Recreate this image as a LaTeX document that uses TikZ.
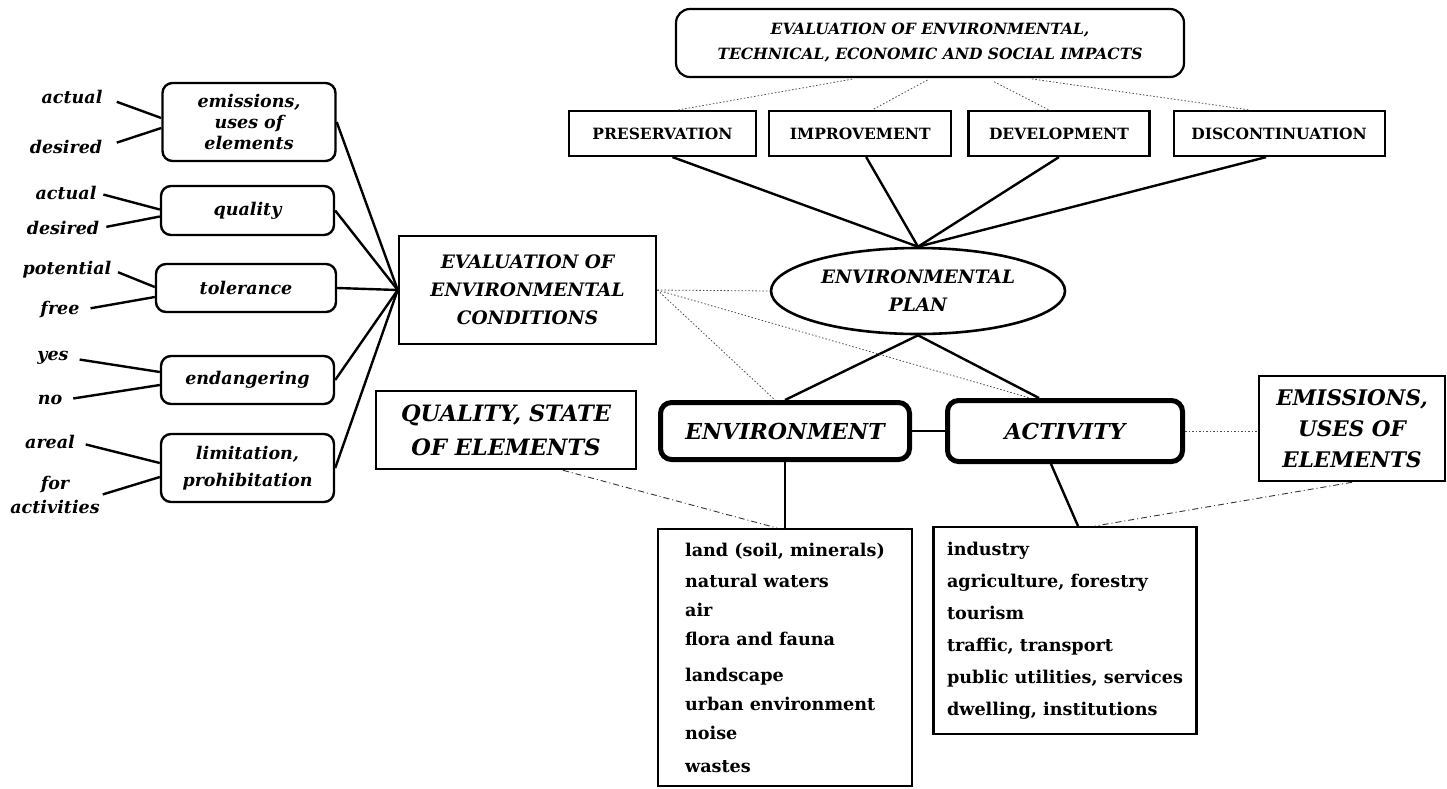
\documentclass[tikz,border=0pt]{standalone}
\usepackage{fontspec}
\setmainfont{DejaVu Serif}
\usetikzlibrary{shapes.geometric, positioning}

\begin{document}
\begin{tikzpicture}[
    x=1pt, y=-1pt,
    crit/.style={draw, rectangle, rounded corners=10pt, minimum width=173pt, align=center, line width=2.4pt, font=\fontsize{17.5}{21}\selectfont\bfseries\itshape},
    lbl/.style={align=center, inner sep=1pt, font=\fontsize{17.5}{24}\selectfont\bfseries\itshape},
    bigbox/.style={draw, rectangle, align=center, line width=2.6pt, font=\fontsize{18.5}{28}\selectfont\bfseries\itshape},
    optbox/.style={draw, rectangle, minimum height=45pt, line width=2.2pt, font=\fontsize{15.5}{17}\selectfont\bfseries},
    corebox/.style={draw, rectangle, rounded corners=11pt, line width=5pt, font=\fontsize{22}{26}\selectfont\bfseries\itshape},
    listbox/.style={draw, rectangle, align=left, line width=2.2pt, font=\fontsize{17.6}{29}\selectfont\bfseries},
    link/.style={line width=2.4pt},
    dotlink/.style={line width=0.8pt, black!70, dash pattern=on 1.5pt off 2pt},
    dashlink/.style={line width=0.9pt, black!80, dash pattern=on 6pt off 3pt on 1pt off 3pt}
]
    \useasboundingbox (0,0) rectangle (1447,788);

    % Criteria
    \node[crit, minimum height=78pt] (emis) at (249,122) {emissions,\\uses of\\elements};
    \node[crit, minimum height=49pt] (qual) at (247.5,210.5) {quality};
    \node[crit, minimum height=48pt, minimum width=180pt] (tol) at (246,288) {tolerance};
    \node[crit, minimum height=48pt] (endang) at (247.5,380) {endangering};
    \node[crit, minimum height=68pt, font=\fontsize{17.5}{27}\selectfont\bfseries\itshape] (limit) at (247.5,468) {limitation,\\prohibitation};

    % Criteria values
    \node[lbl] (act1) at (72,97) {actual};
    \node[lbl] (des1) at (66,147) {desired};
    \node[lbl] (act2) at (66,193) {actual};
    \node[lbl] (des2) at (63,228) {desired};
    \node[lbl] (pot) at (67,270) {potential};
    \node[lbl] (free) at (60,310) {free};
    \node[lbl] (yes) at (53,358) {yes};
    \node[lbl] (no) at (50,400) {no};
    \node[lbl] (areal) at (50,442) {areal};
    \node[lbl] (foract) at (55,495) {for\\activities};

    \draw[link, shorten <=14pt] (act1.east) -- ([yshift=4pt]emis.west);
    \draw[link, shorten <=14pt] (des1.east) -- ([yshift=-6pt]emis.west);
    \draw[link, shorten <=6pt] (act2.east) -- ([yshift=1pt]qual.west);
    \draw[link, shorten <=6pt] (des2.east) -- ([yshift=-6pt]qual.west);
    \draw[link, shorten <=6pt] (pot.east) -- ([yshift=1pt]tol.west);
    \draw[link, shorten <=10pt] (free.east) -- ([yshift=-9pt]tol.west);
    \draw[link, shorten <=10pt] (yes.east) -- ([yshift=8pt]endang.west);
    \draw[link, shorten <=10pt] (no.east) -- ([yshift=-5pt]endang.west);
    \draw[link, shorten <=10pt] (areal.east) -- ([yshift=5pt]limit.west);
    \draw[link, shorten <=2pt] (foract.east) -- ([yshift=-9pt]limit.west);

    % Evaluation of conditions
    \node[bigbox, minimum width=257pt, minimum height=108pt] (evalcond) at (527.5,290) {EVALUATION OF\\ENVIRONMENTAL\\CONDITIONS};
    \node[bigbox, minimum width=260pt, minimum height=78pt, font=\fontsize{22.5}{34}\selectfont\bfseries\itshape] (qualstate) at (506,430) {QUALITY, STATE\\OF ELEMENTS};

    \draw[link] (emis.east) -- (evalcond.west);
    \draw[link] (qual.east) -- (evalcond.west);
    \draw[link] (tol.east) -- (evalcond.west);
    \draw[link] (endang.east) -- (evalcond.west);
    \draw[link] (limit.east) -- (evalcond.west);

    % Plan and impacts
    \node[draw, ellipse, line width=2.6pt, minimum width=294pt, minimum height=86pt, inner sep=0pt, align=center,
          font=\fontsize{18.5}{28}\selectfont\bfseries\itshape] (plan) at (918,291) {ENVIRONMENTAL\\PLAN};
    \node[draw, rounded corners=14pt, minimum width=508pt, minimum height=68pt, line width=2.2pt, align=center,
          font=\fontsize{15.5}{25}\selectfont\bfseries\itshape] (impacts) at (930,43) {EVALUATION OF ENVIRONMENTAL,\\TECHNICAL, ECONOMIC AND SOCIAL IMPACTS};

    \node[optbox, minimum width=187pt] (pres) at (662.5,133.5) {PRESERVATION};
    \node[optbox, minimum width=182pt, right=11pt of pres] (impr) {IMPROVEMENT};
    \node[optbox, minimum width=181pt, right=15pt of impr] (devel) {DEVELOPMENT};
    \node[optbox, minimum width=211pt, right=22pt of devel] (disc) {DISCONTINUATION};

    \draw[dotlink, shorten <=6pt] ([xshift=-72pt]impacts.south) -- ([xshift=16pt]pres.north);
    \draw[dotlink, shorten <=4pt] ([xshift=1pt]impacts.south) -- ([xshift=12pt]impr.north);
    \draw[dotlink, shorten <=8pt] ([xshift=57pt]impacts.south) -- ([xshift=-10pt]devel.north);
    \draw[dotlink, shorten <=6pt] ([xshift=96pt]impacts.south) -- ([xshift=-30pt]disc.north);

    \draw[link] ([xshift=10pt]pres.south) -- (plan.north);
    \draw[link] ([xshift=6pt]impr.south) -- (plan.north);
    \draw[link] (devel.south) -- (plan.north);
    \draw[link] ([xshift=-13pt]disc.south) -- (plan.north);

    % Environment and activity
    \node[corebox, minimum width=249pt, minimum height=57pt] (env) at (785,431) {ENVIRONMENT};
    \node[corebox, minimum width=235pt, minimum height=61pt, right=33pt of env] (act) {ACTIVITY};
    \node[bigbox, minimum width=186pt, minimum height=105pt, font=\fontsize{21.5}{31}\selectfont\bfseries\itshape] (emisel) at (1352,428.5) {EMISSIONS,\\USES OF\\ELEMENTS};

    \draw[link] (plan.south) -- (env.north);
    \draw[link] (plan.south) -- ([xshift=-26pt]act.north);
    \draw[link] (env.east) -- (act.west);

    \draw[dotlink] (evalcond.east) -- (plan.west);
    \draw[dotlink] (evalcond.east) -- ([xshift=-10pt]env.north);
    \draw[dotlink] (evalcond.east) -- ([xshift=-35pt]act.north);
    \draw[dotlink] (act.east) -- (act.east -| emisel.west);

    % Lists
    \node[listbox, minimum width=254pt, minimum height=257pt, below=66pt of env] (envlist) {land (soil, minerals)\\[2pt]natural waters\\air\\flora and fauna\\[7pt]landscape\\urban environment\\noise\\[4pt]wastes};
    \node[listbox, minimum width=263pt, minimum height=207pt, below=62pt of act, font=\fontsize{17.6}{32}\selectfont\bfseries] (actlist) {industry\\agriculture, forestry\\tourism\\traffic, transport\\public utilities, services\\dwelling, institutions};

    \draw[link, line width=2pt] (env.south) -- (envlist.north);
    \draw[link] ([xshift=-14pt]act.south) -- ([xshift=13pt]actlist.north);

    \draw[dashlink] ([xshift=57pt]qualstate.south) -- ([xshift=-8pt]envlist.north);
    \draw[dashlink] (emisel.south) -- ([xshift=30pt]actlist.north);
\end{tikzpicture}
\end{document}
